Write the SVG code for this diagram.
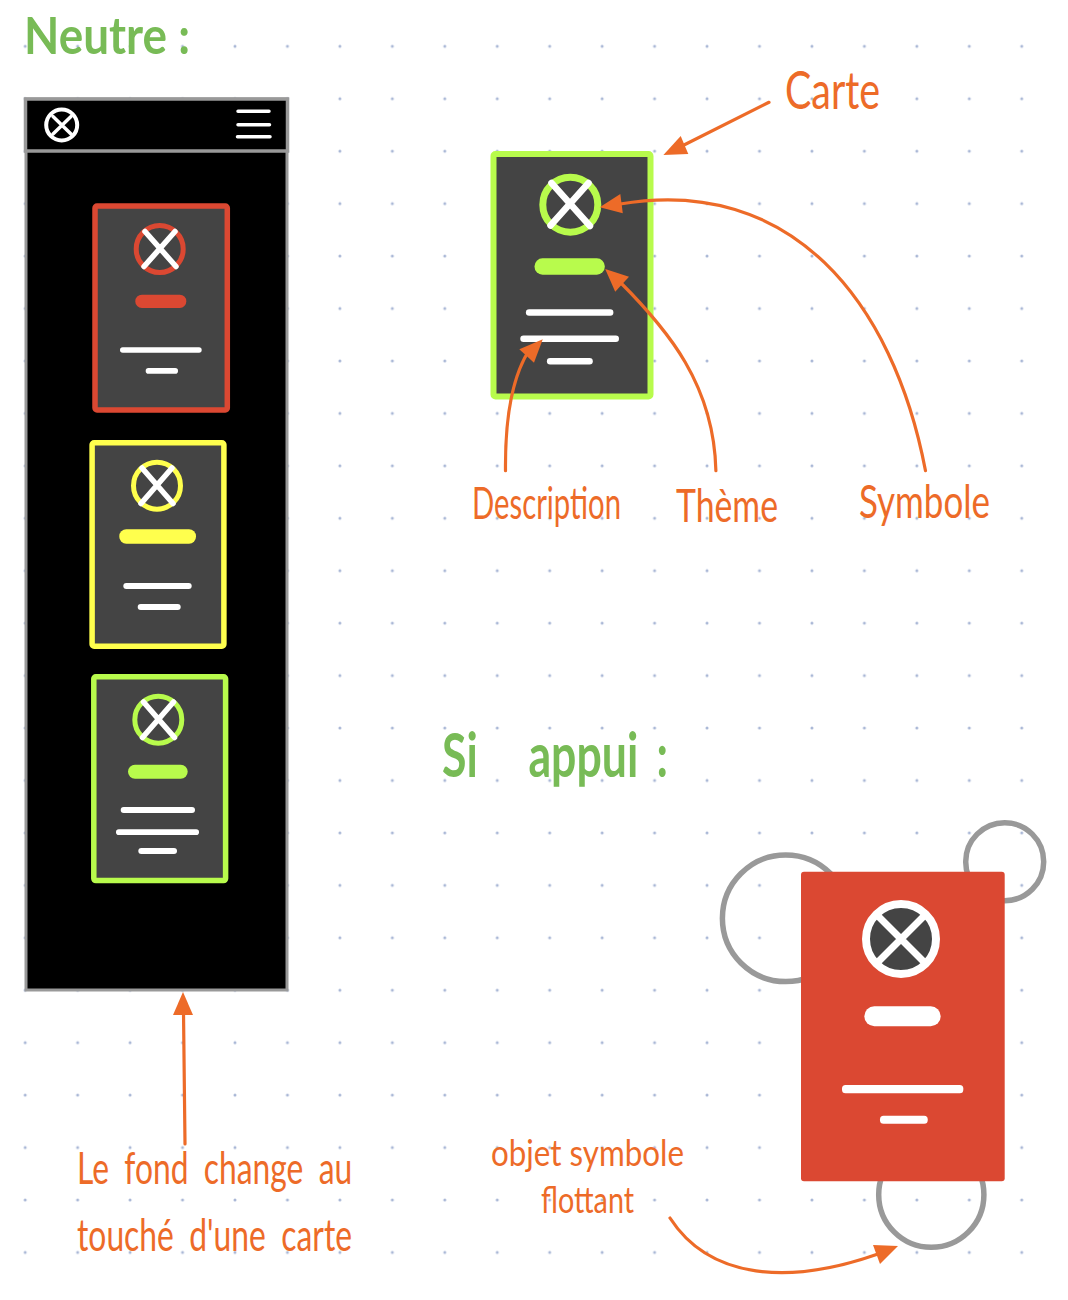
<svg xmlns="http://www.w3.org/2000/svg" width="1068" height="1300" viewBox="0 0 1068 1300">
<style>
.hand{font-family:"Lato","Open Sans","Liberation Sans",sans-serif}
.title{fill:#78BB56;font-weight:700}
.note{fill:#ED6B28;font-weight:400}
.conn{fill:none;stroke:#ED6B28;stroke-width:3.2;stroke-linecap:round}
.head{fill:#ED6B28}
.white{stroke:#fff;stroke-linecap:round;fill:none}
.cardbg{fill:#444}
.ring{fill:none;stroke:#999;stroke-width:5.5}
</style>
<defs>
<pattern id="dots" x="25.2" y="46.3" width="52.45" height="52.44" patternUnits="userSpaceOnUse">
<rect width="52.45" height="52.44" fill="#fff"/>
<circle cx="0" cy="0" r="1.5" fill="#A9B7D6"/>
<circle cx="52.45" cy="0" r="1.5" fill="#A9B7D6"/>
<circle cx="0" cy="52.44" r="1.5" fill="#A9B7D6"/>
<circle cx="52.45" cy="52.44" r="1.5" fill="#A9B7D6"/>
</pattern>
</defs>
<rect width="1068" height="1300" fill="#fff"/>
<rect x="23" y="44" width="1001" height="1211" fill="url(#dots)"/>

<g id="titles">
<text class="hand title" transform="translate(24 54) scale(.874 1)" font-size="52" textLength="190" lengthAdjust="spacingAndGlyphs">Neutre :</text>
<text class="hand title" transform="translate(442 777) scale(.72 1)" font-size="62"><tspan x="0">Si</tspan><tspan x="120">appui</tspan><tspan x="298">:</tspan></text>
</g>

<g id="phone">
<rect x="26" y="99" width="261" height="891" fill="#000" stroke="#999" stroke-width="3"/>
<rect x="25.5" y="99" width="262" height="52" fill="#000" stroke="#999" stroke-width="3.5"/>
<g id="phone-logo">
<circle cx="61.7" cy="125" r="15.5" fill="none" stroke="#fff" stroke-width="4"/>
<path class="white" stroke-width="3.5" d="M53 116.5L71 134M71 116.5L53 134"/>
</g>
<g id="phone-menu">
<path class="white" stroke-width="3.5" d="M238 111.3H269M238 124.7H269.5M237.5 136.7H270"/>
</g>
</g>

<g id="card-red">
<rect x="95" y="206" width="132.3" height="204" rx="2" class="cardbg" stroke="#DB4832" stroke-width="5.5"/>
<circle cx="159.7" cy="249" r="23.5" fill="none" stroke="#DB4832" stroke-width="5"/>
<path class="white" stroke-width="5.5" d="M145 231.5L176 266.5M175 231.500L144 266.500"/>
<rect x="135.3" y="294.7" width="51" height="13.3" rx="6.5" fill="#DB4832"/>
<rect x="120" y="347.3" width="81.7" height="5.4" rx="2.7" fill="#fff"/>
<rect x="145.7" y="368" width="32.3" height="5.7" rx="2.8" fill="#fff"/>
</g>

<g id="card-yellow">
<rect x="92.1" y="442.8" width="131.8" height="203.4" rx="2" class="cardbg" stroke="#FFFF4D" stroke-width="5.5"/>
<circle cx="157" cy="485.7" r="23.5" fill="none" stroke="#FFFF4D" stroke-width="5"/>
<path class="white" stroke-width="5.5" d="M142 468L173 503.500M172 468L141 503.500"/>
<rect x="119.300" y="529.300" width="76.700" height="14.400" rx="7" fill="#FFFF4D"/>
<rect x="123.300" y="583" width="68.400" height="6" rx="3" fill="#fff"/>
<rect x="137.700" y="604" width="43" height="6" rx="3" fill="#fff"/>
</g>

<g id="card-green">
<rect x="93.800" y="676.800" width="131.800" height="203.800" rx="2" class="cardbg" stroke="#B8FB4C" stroke-width="5.500"/>
<circle cx="158.300" cy="719.700" r="23.500" fill="none" stroke="#B8FB4C" stroke-width="5"/>
<path class="white" stroke-width="5.500" d="M143.500 702L174.500 737.500M173.500 702L142.500 737.500"/>
<rect x="128" y="764.700" width="59.700" height="14" rx="7" fill="#B8FB4C"/>
<rect x="120.700" y="807" width="74.300" height="6" rx="3" fill="#fff"/>
<rect x="116" y="829.300" width="83" height="5.700" rx="2.800" fill="#fff"/>
<rect x="138.300" y="848" width="38.700" height="6" rx="3" fill="#fff"/>
</g>

<g id="card-legend">
<rect x="493.500" y="154" width="157" height="242.500" rx="2" class="cardbg" stroke="#B8FB4C" stroke-width="6"/>
<circle cx="570.300" cy="204.700" r="27.500" fill="none" stroke="#B8FB4C" stroke-width="7"/>
<path class="white" stroke-width="6.500" d="M551.500 183L590 226M588.500 183L550.500 225.500"/>
<rect x="534.500" y="258.300" width="70.300" height="16.400" rx="8" fill="#B8FB4C"/>
<rect x="525.900" y="309.300" width="87.500" height="6.400" rx="3.200" fill="#fff"/>
<rect x="520.300" y="335.500" width="98.700" height="6.400" rx="3.200" fill="#fff"/>
<rect x="546.900" y="358" width="45.900" height="6.400" rx="3.200" fill="#fff"/>
</g>

<g id="floating-circles">
<circle class="ring" cx="785.700" cy="918.300" r="63.300"/>
<circle class="ring" cx="1004.700" cy="861.700" r="39"/>
<circle class="ring" cx="931.300" cy="1194.700" r="52.600"/>
</g>

<g id="card-pressed">
<rect x="801" y="871.700" width="203.700" height="309.600" rx="3" fill="#DB4832"/>
<circle cx="901" cy="939" r="35" fill="#444" stroke="#fff" stroke-width="8"/>
<path class="white" stroke-width="7" stroke-linecap="butt" d="M877 915L925 963M925 915L877 963"/>
<rect x="864.300" y="1006.300" width="76.400" height="20" rx="10" fill="#fff"/>
<rect x="842" y="1085" width="121.300" height="8.300" rx="3.500" fill="#fff"/>
<rect x="880" y="1115.700" width="47.700" height="8" rx="3.500" fill="#fff"/>
</g>

<g id="connectors">
<path class="conn" d="M769 102.300L682 146"/>
<polygon class="head" points="663.400,155 680.700,136 688.300,154"/>
<path class="conn" d="M925.500 470.700C893 300 790 175 620 204"/>
<polygon class="head" points="599.700,207.300 620.300,194 622.800,213.300"/>
<path class="conn" d="M715.900 470.700C714 385 668 330 620 282"/>
<polygon class="head" points="605.200,269 629,276.700 615.200,291.700"/>
<path class="conn" d="M505.500 470.700C505 420 511 380 528 352"/>
<polygon class="head" points="542.800,339.300 519.300,349.300 534,362.700"/>
<path class="conn" d="M185 1144L183.500 1012"/>
<polygon class="head" points="183,992 173,1015 193,1015"/>
<path class="conn" d="M670 1218C710 1280 790 1285 878 1254"/>
<polygon class="head" points="898,1246 873,1245 880,1264"/>
</g>

<g id="labels">
<text class="hand note" transform="translate(785 109) scale(.755 1)" font-size="52" textLength="126" lengthAdjust="spacingAndGlyphs">Carte</text>
<text class="hand note" transform="translate(472 519) scale(.665 1)" font-size="44" textLength="224" lengthAdjust="spacingAndGlyphs">Description</text>
<text class="hand note" transform="translate(676 522) scale(.73 1)" font-size="46" textLength="139.700" lengthAdjust="spacingAndGlyphs">Thème</text>
<text class="hand note" transform="translate(859 518) scale(.75 1)" font-size="46" textLength="174.700" lengthAdjust="spacingAndGlyphs">Symbole</text>
<text class="hand note" transform="translate(77 1184) scale(.75 1)" font-size="44" word-spacing="10" textLength="367" lengthAdjust="spacingAndGlyphs">Le fond change au</text>
<text class="hand note" transform="translate(77 1251) scale(.72 1)" font-size="44" word-spacing="10" textLength="382" lengthAdjust="spacingAndGlyphs">touché d'une carte</text>
<text class="hand note" transform="translate(491 1166) scale(.93 1)" font-size="36" textLength="207.500" lengthAdjust="spacingAndGlyphs">objet symbole</text>
<text class="hand note" transform="translate(541 1213) scale(.886 1)" font-size="36" textLength="105" lengthAdjust="spacingAndGlyphs">flottant</text>
</g>
</svg>
